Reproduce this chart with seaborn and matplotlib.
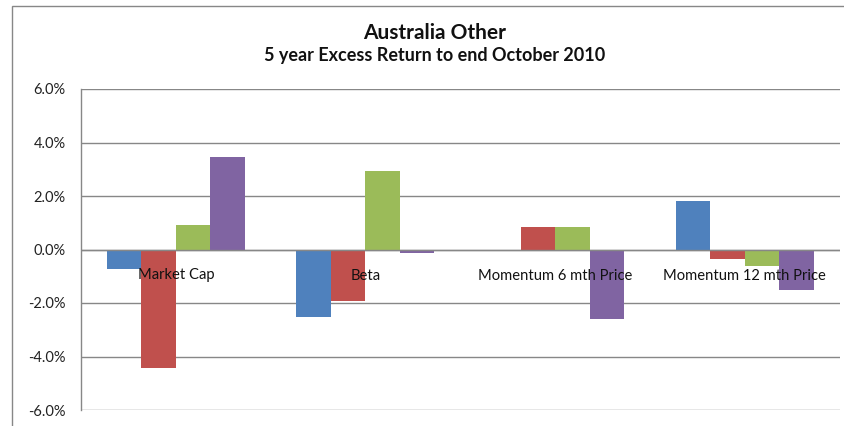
import matplotlib
matplotlib.use("Agg")
import matplotlib.pyplot as plt
import matplotlib.transforms as mtransforms
from matplotlib.patches import Rectangle
import seaborn as sns
import pandas as pd

categories = ["Market Cap", "Beta", "Momentum 6 mth Price", "Momentum 12 mth Price"]
series_names = ["Series 1", "Series 2", "Series 3", "Series 4"]
series1 = [-0.73, -2.54, 0.0, 1.80]
series2 = [-4.44, -1.92, 0.83, -0.35]
series3 = [0.90, 2.93, 0.83, -0.61]
series4 = [3.46, -0.14, -2.58, -1.53]
yticks = [-6, -4, -2, 0, 2, 4, 6]
colors = ["#4F81BD", "#C0504D", "#9BBB59", "#8064A2"]

rows = []
for name, vals in zip(series_names, [series1, series2, series3, series4]):
    for c, v in zip(categories, vals):
        rows.append({"category": c, "series": name, "value": v})
df = pd.DataFrame(rows)

sns.set_style("white")
plt.rcParams["font.family"] = ["Lato", "DejaVu Sans"]

fig = plt.figure(figsize=(8.44, 4.26), dpi=100)
ax = fig.add_axes([81 / 844, 1 - 410 / 426, (839.5 - 81) / 844, (410 - 89) / 426])

sns.barplot(data=df, x="category", y="value", hue="series", order=categories,
            hue_order=series_names, palette=colors, width=0.728, ax=ax,
            legend=False, saturation=1, linewidth=0, errorbar=None)

ax.set_ylim(-6, 6)
ax.set_xlim(-0.5, len(categories) - 0.5)
ax.set_yticks(yticks)
ax.set_yticklabels([f"{v:.1f}%" for v in yticks], fontsize=10.5, color="#222222")
ax.tick_params(axis="y", length=0, pad=11)
ax.set_xticks([])
ax.set_xlabel("")
ax.set_ylabel("")
ax.set_axisbelow(True)
ax.yaxis.grid(True, color="#878787", linewidth=1)
for s in ["top", "right", "bottom"]:
    ax.spines[s].set_visible(False)
ax.spines["left"].set_color("#878787")
ax.spines["left"].set_linewidth(1)
ax.axhline(0, color="#878787", linewidth=1, zorder=3)

off = mtransforms.offset_copy(ax.transData, fig=fig, x=0, y=-26, units="dots")
for i, c in enumerate(categories):
    ax.text(i, 0, c, transform=off, ha="center", va="center", fontsize=10.6,
            color="#111111", zorder=5)

fig.text(435 / 844, 1 - 33 / 426, "Australia Other", ha="center", va="center",
         fontsize=15, fontweight="bold", color="#111111")
fig.text(435 / 844, 1 - 56 / 426, "5 year Excess Return to end October 2010",
         ha="center", va="center", fontsize=13, fontweight="bold", color="#111111")

fig.patches.append(Rectangle((12 / 844, -0.1), 1.2, 1.1 - 6 / 426,
                             transform=fig.transFigure, fill=False,
                             edgecolor="#878787", linewidth=1))

fig.savefig("out.png", dpi=100)
